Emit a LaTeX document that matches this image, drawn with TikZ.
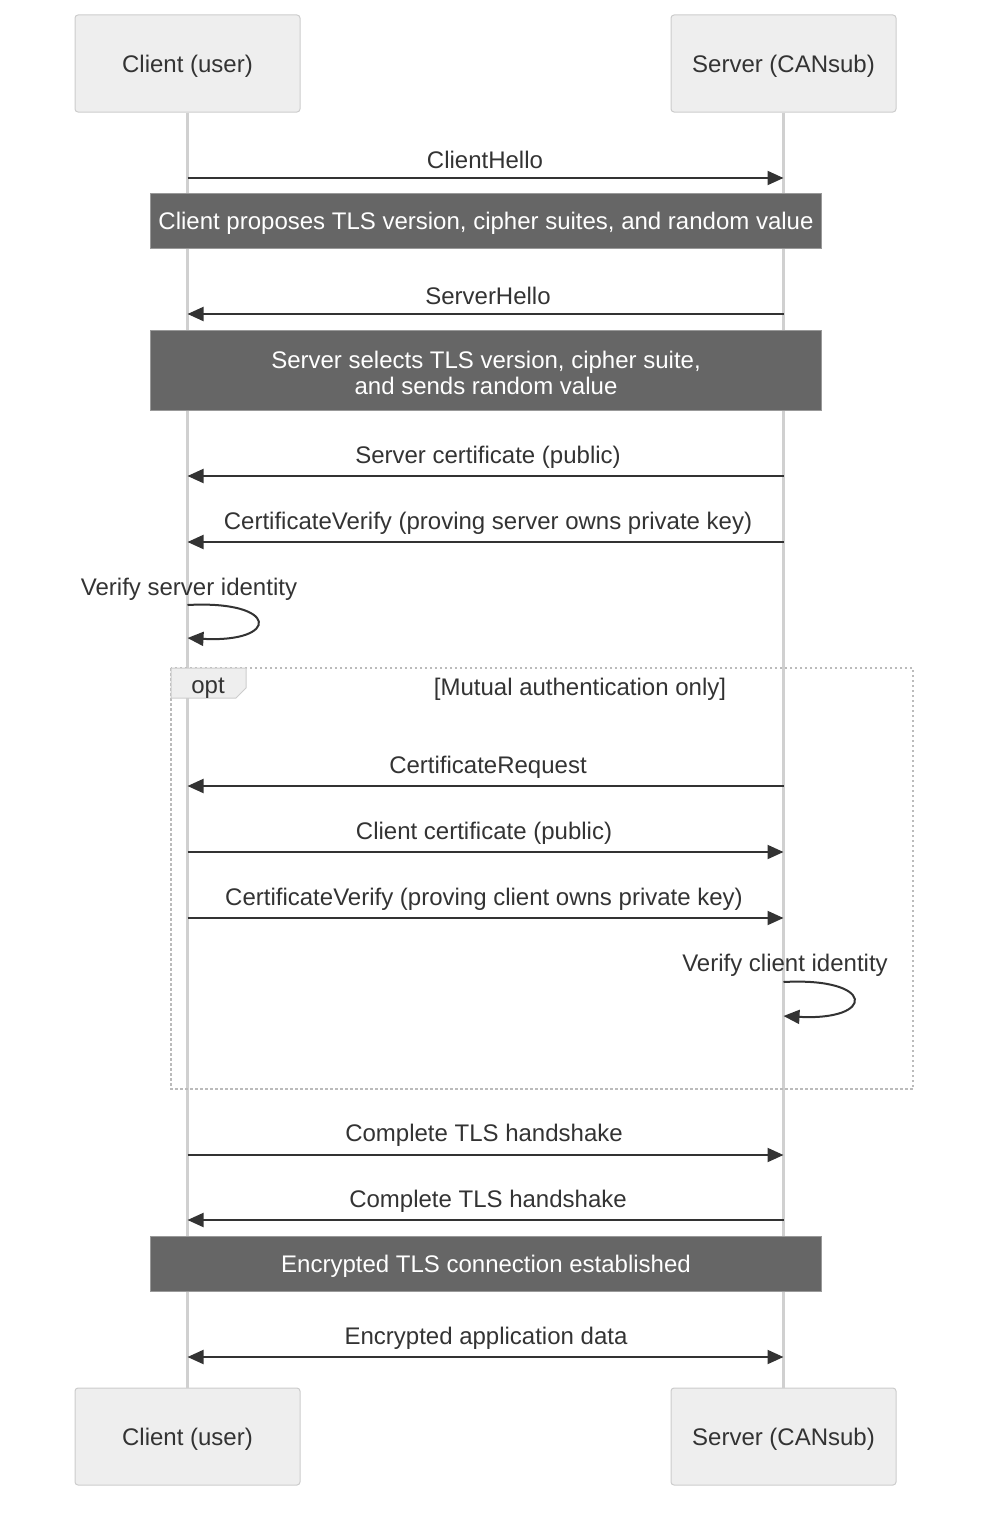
\documentclass[tikz,border=0pt]{standalone}
\usepackage{fontspec}
\setmainfont{Liberation Sans}
\usetikzlibrary{arrows.meta,calc}
\definecolor{txt}{HTML}{333333}
\definecolor{actfill}{HTML}{EEEEEE}
\definecolor{actdraw}{HTML}{CCCCCC}
\definecolor{lifeln}{HTML}{D0D0D0}
\definecolor{notefill}{HTML}{666666}
\definecolor{notedraw}{HTML}{999999}
\definecolor{optdraw}{HTML}{BBBBBB}
\tikzset{
  actor/.style={draw=actdraw,fill=actfill,line width=1pt,rounded corners=3pt,minimum width=225pt,minimum height=97pt,text=txt,font=\fontsize{24}{28}\selectfont,text height=17pt,text depth=0pt},
  lifeline/.style={draw=lifeln,line width=2.5pt},
  msg/.style={draw=txt,line width=2pt,-{Triangle[length=16pt,width=14pt]}},
  msgtext/.style={text=txt,font=\fontsize{24}{28}\selectfont,inner sep=0pt},
  notebox/.style={draw=notedraw,fill=notefill,line width=1pt,minimum width=671pt},
  notetext/.style={text=white,font=\fontsize{24}{26}\selectfont,align=center,inner sep=0pt},
  optframe/.style={draw=optdraw,line width=2pt,dash pattern=on 2.5pt off 2.5pt},
}
\begin{document}
\begin{tikzpicture}[x=1pt,y=-1pt]
\useasboundingbox (0,0) rectangle (1000,1520);
% actors
\node[actor] (ctop) at (187.5,63.5) {Client (user)};
\node[actor] (stop) at (783.5,63.5) {Server (CANsub)};
\node[actor] (cbot) at (187.5,1436.5) {Client (user)};
\node[actor] (sbot) at (783.5,1436.5) {Server (CANsub)};
\draw[lifeline] (ctop.south) -- (cbot.north);
\draw[lifeline] (stop.south) -- (sbot.north);
% opt frame
\draw[optframe] (171,668) rectangle (913,1089);
\filldraw[draw=actdraw,fill=actfill,line width=1pt] (171,668) -- (246,668) -- (246,688) -- (236,698) -- (171,698) -- cycle;
\node[msgtext] (optt) at (208,688.5) {opt};
\node[msgtext] (cond) at (580,689.5) {[Mutual authentication only]};
% coordinates
\coordinate (c1) at (ctop.south |- 0,178);   \coordinate (s1) at (stop.south |- 0,178);
\coordinate (c2) at (ctop.south |- 0,314);   \coordinate (s2) at (stop.south |- 0,314);
\coordinate (c3) at (ctop.south |- 0,476);   \coordinate (s3) at (stop.south |- 0,476);
\coordinate (c4) at (ctop.south |- 0,542);   \coordinate (s4) at (stop.south |- 0,542);
\coordinate (c5) at (ctop.south |- 0,786);   \coordinate (s5) at (stop.south |- 0,786);
\coordinate (c6) at (ctop.south |- 0,852);   \coordinate (s6) at (stop.south |- 0,852);
\coordinate (c7) at (ctop.south |- 0,918);   \coordinate (s7) at (stop.south |- 0,918);
\coordinate (c8) at (ctop.south |- 0,1155);  \coordinate (s8) at (stop.south |- 0,1155);
\coordinate (c9) at (ctop.south |- 0,1220);  \coordinate (s9) at (stop.south |- 0,1220);
\coordinate (c10) at (ctop.south |- 0,1357); \coordinate (s10) at (stop.south |- 0,1357);
% messages
\draw[msg] (c1) -- (s1);
\node[msgtext] (t1) at (485,159.5) {ClientHello};
\node[notebox,minimum height=55pt] (n1) at (486,220.5) {};
\node[notetext] (n1t) at (486,223.5) {Client proposes TLS version, cipher suites, and random value};
\draw[msg] (s2) -- (c2);
\node[msgtext] (t2) at (488,295.5) {ServerHello};
\node[notebox,minimum height=80pt] (n2) at (486,370) {};
\node[notetext] (n2t) at (486,373) {Server selects TLS version, cipher suite,\\and sends random value};
\draw[msg] (s3) -- (c3);
\node[msgtext] (t3) at (488,457.5) {Server certificate (public)};
\draw[msg] (s4) -- (c4);
\node[msgtext] (t4) at (488,523.5) {CertificateVerify (proving server owns private key)};
% self loop client
\node[msgtext] (t5) at (189,589.5) {Verify server identity};
\coordinate (l1a) at (ctop.south |- 0,605);
\coordinate (l1b) at (ctop.south |- 0,638);
\draw[msg] (l1a) .. controls (280,600) and (280,643) .. (l1b);
% opt messages
\draw[msg] (s5) -- (c5);
\node[msgtext] (t6) at (488,767.5) {CertificateRequest};
\draw[msg] (c6) -- (s6);
\node[msgtext] (t7) at (484,833.5) {Client certificate (public)};
\draw[msg] (c7) -- (s7);
\node[msgtext] (t8) at (484,899.5) {CertificateVerify (proving client owns private key)};
\node[msgtext] (t9) at (785,965.5) {Verify client identity};
\coordinate (l2a) at (stop.south |- 0,982);
\coordinate (l2b) at (stop.south |- 0,1016);
\draw[msg] (l2a) .. controls (876,977) and (876,1021) .. (l2b);
% after opt
\draw[msg] (c8) -- (s8);
\node[msgtext] (t10) at (484,1135.5) {Complete TLS handshake};
\draw[msg] (s9) -- (c9);
\node[msgtext] (t11) at (488,1201.5) {Complete TLS handshake};
\node[notebox,minimum height=55pt] (n3) at (486,1263.5) {};
\node[notetext] (n3t) at (486,1266.5) {Encrypted TLS connection established};
\draw[msg,{Triangle[length=16pt,width=14pt]}-{Triangle[length=16pt,width=14pt]}] (c10) -- (s10);
\node[msgtext] (t12) at (486,1338.5) {Encrypted application data};
\end{tikzpicture}
\end{document}
